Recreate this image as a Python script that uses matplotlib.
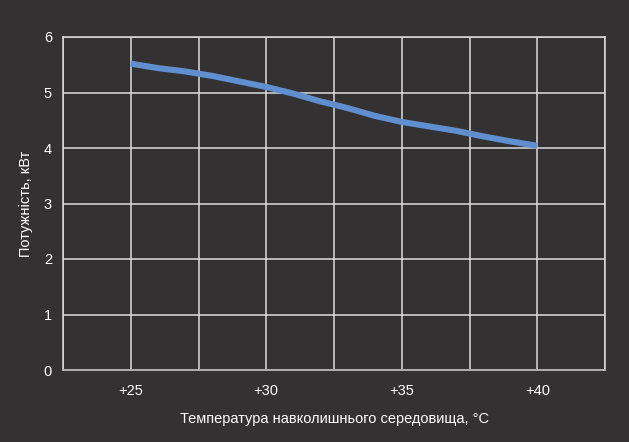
import matplotlib
matplotlib.use("Agg")
import matplotlib.pyplot as plt
import numpy as np

plt.rcParams["font.family"] = ["Liberation Sans", "DejaVu Sans"]

# Температура навколишнього середовища, °C / потужність, кВт
temp = [25, 26, 27, 28, 29, 30, 31, 32, 33, 34, 35, 36, 37, 38, 39, 40]
power = [5.52, 5.44, 5.38, 5.30, 5.20, 5.10, 4.98, 4.84, 4.72, 4.58,
         4.47, 4.39, 4.31, 4.21, 4.12, 4.04]
xticks = [25, 30, 35, 40]
xticklabels = ["+25", "+30", "+35", "+40"]
yticks = [0, 1, 2, 3, 4, 5, 6]

bg = "#333132"
fg = "#ffffff"
grid = "#dcdcdc"

fig = plt.figure(figsize=(6.29, 4.42), dpi=100, facecolor=bg)
ax = fig.add_axes([63/629, 72/442, 542/629, 333/442], facecolor=bg)

ax.plot(temp, power, color="#5f8fcf", lw=4.4, solid_capstyle="butt", zorder=3)

gx = np.arange(22.5, 42.6, 2.5)
ax.set_xlim(22.5, 42.5)
ax.set_ylim(0, 6)
ax.set_xticks(gx)
ax.set_xticklabels([xticklabels[xticks.index(v)] if v in xticks else "" for v in gx])
ax.set_yticks(yticks)
ax.grid(True, color=grid, lw=1.1, zorder=1)
for s in ax.spines.values():
    s.set_color(grid)
    s.set_linewidth(1.1)
ax.spines["bottom"].set_color("#b0b0b0")
ax.spines["bottom"].set_linewidth(1.4)
ax.tick_params(length=0, colors=fg, labelsize=10.5)
ax.tick_params(axis="x", pad=10)
ax.tick_params(axis="y", pad=8)

ax.set_xlabel("Температура навколишнього середовища, °C", color=fg, fontsize=10.5, labelpad=10)
ax.set_ylabel("Потужність, кВт", color=fg, fontsize=10.5, labelpad=8)

fig.savefig("out.png", dpi=100, facecolor=bg)
